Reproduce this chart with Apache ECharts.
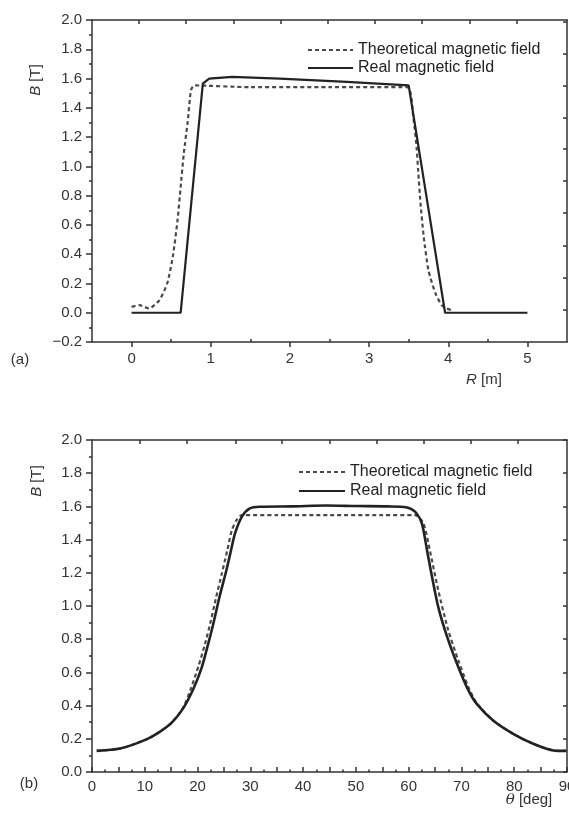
<!DOCTYPE html>
<html>
<head>
<meta charset="utf-8">
<script src="https://cdn.jsdelivr.net/npm/echarts@6/dist/echarts.min.js"></script>
<style>
html,body{margin:0;padding:0;background:#fff;}
#c{width:569px;height:816px;}
</style>
</head>
<body>
<div id="c"></div>
<script>
// ---- Panel (a): B vs R ----
const rRealA = [0, 0.62, 0.90, 0.98, 1.27, 1.87, 2.72, 3.50, 3.96, 5.0];
const bRealA = [0, 0, 1.565, 1.600, 1.612, 1.600, 1.577, 1.553, 0, 0];
const rTheoA = [0, 0.10, 0.22, 0.35, 0.45, 0.52, 0.58, 0.62, 0.66, 0.71, 0.75, 0.79, 1.5, 2.5, 3.48, 3.56, 3.60, 3.62, 3.65, 3.69, 3.75, 3.84, 3.92, 3.98, 4.05];
const bTheoA = [0.04, 0.052, 0.029, 0.085, 0.20, 0.38, 0.63, 0.86, 1.09, 1.31, 1.52, 1.553, 1.541, 1.541, 1.541, 1.33, 1.13, 0.97, 0.745, 0.52, 0.29, 0.13, 0.05, 0.03, 0.015];

// ---- Panel (b): B vs theta ----
const tRealB = [0.9, 5.3, 10.2, 12.9, 15.2, 17.3, 19.2, 20.8, 22.0, 23.0, 24.2, 25.5, 26.3, 27.1, 28.4, 29.9, 31.8, 38, 44.4, 50, 56, 59.5, 61.2, 62.5, 63.7, 65.6, 67.5, 69.4, 71.3, 72.9, 76.0, 79.8, 83.6, 87.4, 89.9];
const bRealB = [0.127, 0.141, 0.195, 0.243, 0.30, 0.385, 0.50, 0.63, 0.77, 0.895, 1.06, 1.22, 1.33, 1.437, 1.538, 1.588, 1.598, 1.600, 1.605, 1.602, 1.600, 1.595, 1.568, 1.498, 1.296, 0.995, 0.794, 0.633, 0.493, 0.41, 0.31, 0.23, 0.17, 0.13, 0.127];
const tTheoB = [0.9, 5.3, 10.2, 12.9, 15.2, 17.3, 18.6, 20.2, 21.4, 22.4, 23.5, 24.6, 25.6, 26.5, 27.4, 28.4, 35, 45, 55, 61.2, 62.8, 64.0, 65.6, 67.5, 69.4, 71.3, 72.9, 76.0, 79.8, 83.6, 87.4, 89.9];
const bTheoB = [0.127, 0.141, 0.195, 0.243, 0.30, 0.39, 0.49, 0.64, 0.77, 0.895, 1.05, 1.196, 1.33, 1.457, 1.518, 1.548, 1.548, 1.548, 1.548, 1.548, 1.498, 1.337, 1.096, 0.854, 0.673, 0.513, 0.415, 0.31, 0.23, 0.17, 0.13, 0.127];

// ---- Tick labels / tick positions ----
const xLabelsA = [0, 1, 2, 3, 4, 5];
const xMinorA = [0.5, 1.5, 2.5, 3.5, 4.5];
const xTopTicksA = [0.09, 0.69, 1.29, 1.88, 2.48, 3.07, 3.67, 4.27, 4.86];
const yRightTicksA = [0.02, 0.24, 0.46, 0.68, 0.90, 1.12, 1.33, 1.55, 1.77, 1.99];
const xLabelsB = [0, 10, 20, 30, 40, 50, 60, 70, 80, 90];
const xTopTicksB = [9.1, 18.0, 27.2, 36.0, 45.0, 53.9, 62.9, 71.7, 80.7];

const seriesNames = ['Theoretical magnetic field', 'Real magnetic field'];

const zip = (a, b) => a.map((v, i) => [v, b[i]]);
const FONT = 'Liberation Sans, Arial, Helvetica, sans-serif';
const AX = {color: '#333', width: 1.5};
const LBL = {color: '#333', fontSize: 15, fontFamily: FONT};

const chart = echarts.init(document.getElementById('c'), null, {renderer: 'canvas'});

const fmtB = v => {
  const s = Math.abs(v).toFixed(1);
  return v < -1e-9 ? '\u2212' + s : s;
};

const legendBase = {orient: 'vertical', padding: 0, itemHeight: 14,
  itemStyle: {opacity: 0, borderWidth: 0},
  textStyle: {fontSize: 16, color: '#222', fontFamily: FONT}};

const option = {
  animation: false,
  backgroundColor: '#fff',
  grid: [
    {left: 92, top: 20, width: 475, height: 322, containLabel: false, outerBoundsMode: 'none'},
    {left: 92, top: 440, width: 475, height: 332, containLabel: false, outerBoundsMode: 'none'}
  ],
  legend: [
    Object.assign({data: seriesNames, left: 307, top: 42, itemGap: 2, itemWidth: 45}, legendBase),
    Object.assign({data: seriesNames, left: 298, top: 464, itemGap: 3, itemWidth: 46}, legendBase)
  ],
  xAxis: [
    {gridIndex: 0, type: 'value', position: 'bottom', min: -0.5, max: 5.5,
     axisLine: {show: true, onZero: false, lineStyle: AX},
     axisTick: {show: true, customValues: xLabelsA, length: 5, lineStyle: AX},
     axisLabel: {customValues: xLabelsA, margin: 9, ...LBL},
     splitLine: {show: false}},
    {gridIndex: 0, type: 'value', position: 'bottom', min: -0.5, max: 5.5,
     axisLine: {show: false, onZero: false},
     axisTick: {show: true, inside: true, customValues: xMinorA, length: 3, lineStyle: AX},
     axisLabel: {show: false}, splitLine: {show: false}},
    {gridIndex: 0, type: 'value', position: 'top', min: -0.5, max: 5.5,
     axisLine: {show: true, onZero: false, lineStyle: AX},
     axisTick: {show: true, inside: true, customValues: xTopTicksA, length: 4, lineStyle: AX},
     axisLabel: {show: false}, splitLine: {show: false}},
    {gridIndex: 1, type: 'value', position: 'bottom', min: 0, max: 90, interval: 5,
     axisLine: {show: true, onZero: false, lineStyle: AX},
     axisTick: {show: true, inside: true, length: 5, lineStyle: AX},
     minorTick: {show: true, splitNumber: 2, length: 2.5, lineStyle: AX},
     axisLabel: {customValues: xLabelsB, margin: 7, ...LBL},
     splitLine: {show: false}},
    {gridIndex: 1, type: 'value', position: 'top', min: 0, max: 90,
     axisLine: {show: true, onZero: false, lineStyle: AX},
     axisTick: {show: true, inside: true, customValues: xTopTicksB, length: 4, lineStyle: AX},
     axisLabel: {show: false}, splitLine: {show: false}}
  ],
  yAxis: [
    {gridIndex: 0, type: 'value', position: 'left', min: -0.2, max: 2.0, interval: 0.2,
     axisLine: {show: true, onZero: false, lineStyle: AX},
     axisTick: {show: true, length: 6, lineStyle: AX},
     minorTick: {show: true, splitNumber: 2, length: 3, lineStyle: AX},
     axisLabel: {formatter: fmtB, margin: 10, ...LBL},
     splitLine: {show: false}},
    {gridIndex: 0, type: 'value', position: 'right', min: -0.2, max: 2.0,
     axisLine: {show: true, onZero: false, lineStyle: AX},
     axisTick: {show: true, inside: true, customValues: yRightTicksA, length: 4, lineStyle: AX},
     axisLabel: {show: false}, splitLine: {show: false}},
    {gridIndex: 1, type: 'value', position: 'left', min: 0, max: 2.0, interval: 0.2,
     axisLine: {show: true, onZero: false, lineStyle: AX},
     axisTick: {show: true, length: 6, lineStyle: AX},
     minorTick: {show: true, splitNumber: 2, length: 3, lineStyle: AX},
     axisLabel: {formatter: fmtB, margin: 10, ...LBL},
     splitLine: {show: false}},
    {gridIndex: 1, type: 'value', position: 'right', min: 0, max: 2.0, interval: 0.2,
     axisLine: {show: true, onZero: false, lineStyle: AX},
     axisTick: {show: true, inside: true, length: 4, lineStyle: AX},
     axisLabel: {show: false}, splitLine: {show: false}}
  ],
  series: [
    {name: seriesNames[0], type: 'line', xAxisIndex: 0, yAxisIndex: 0, data: zip(rTheoA, bTheoA),
     symbol: 'none', smooth: 0.2, lineStyle: {color: '#4a4a4a', width: 2.2, type: [4, 3]}, itemStyle: {color: '#4a4a4a'}},
    {name: seriesNames[1], type: 'line', xAxisIndex: 0, yAxisIndex: 0, data: zip(rRealA, bRealA),
     symbol: 'none', lineStyle: {color: '#222', width: 2.2}, itemStyle: {color: '#222'}},
    {name: seriesNames[0], type: 'line', xAxisIndex: 3, yAxisIndex: 2, data: zip(tTheoB, bTheoB),
     symbol: 'none', smooth: 0.25, lineStyle: {color: '#4a4a4a', width: 2.2, type: [4, 3]}, itemStyle: {color: '#4a4a4a'}},
    {name: seriesNames[1], type: 'line', xAxisIndex: 3, yAxisIndex: 2, data: zip(tRealB, bRealB),
     symbol: 'none', smooth: 0.25, lineStyle: {color: '#222', width: 2.6}, itemStyle: {color: '#222'}}
  ],
  graphic: [
    {type: 'text', x: 36, y: 80, rotation: Math.PI / 2,
     style: {text: '{i|B} [T]', rich: {i: {fontStyle: 'italic', fontSize: 15, fontFamily: FONT, fill: '#333'}},
             fontSize: 15, fontFamily: FONT, fill: '#333', align: 'center', verticalAlign: 'middle'}},
    {type: 'text', x: 484, y: 380,
     style: {text: '{i|R} [m]', rich: {i: {fontStyle: 'italic', fontSize: 15, fontFamily: FONT, fill: '#333'}},
             fontSize: 15, fontFamily: FONT, fill: '#333', align: 'center', verticalAlign: 'middle'}},
    {type: 'text', x: 20, y: 360,
     style: {text: '(a)', fontSize: 15, fontFamily: FONT, fill: '#333', align: 'center', verticalAlign: 'middle'}},
    {type: 'text', x: 37, y: 481, rotation: Math.PI / 2,
     style: {text: '{i|B} [T]', rich: {i: {fontStyle: 'italic', fontSize: 15, fontFamily: FONT, fill: '#333'}},
             fontSize: 15, fontFamily: FONT, fill: '#333', align: 'center', verticalAlign: 'middle'}},
    {type: 'text', x: 529, y: 800,
     style: {text: '{i|θ} [deg]', rich: {i: {fontStyle: 'italic', fontSize: 15, fontFamily: 'DejaVu Serif, serif', fill: '#333'}},
             fontSize: 15, fontFamily: FONT, fill: '#333', align: 'center', verticalAlign: 'middle'}},
    {type: 'text', x: 29, y: 784,
     style: {text: '(b)', fontSize: 15, fontFamily: FONT, fill: '#333', align: 'center', verticalAlign: 'middle'}}
  ]
};
chart.setOption(option);
</script>
</body>
</html>
